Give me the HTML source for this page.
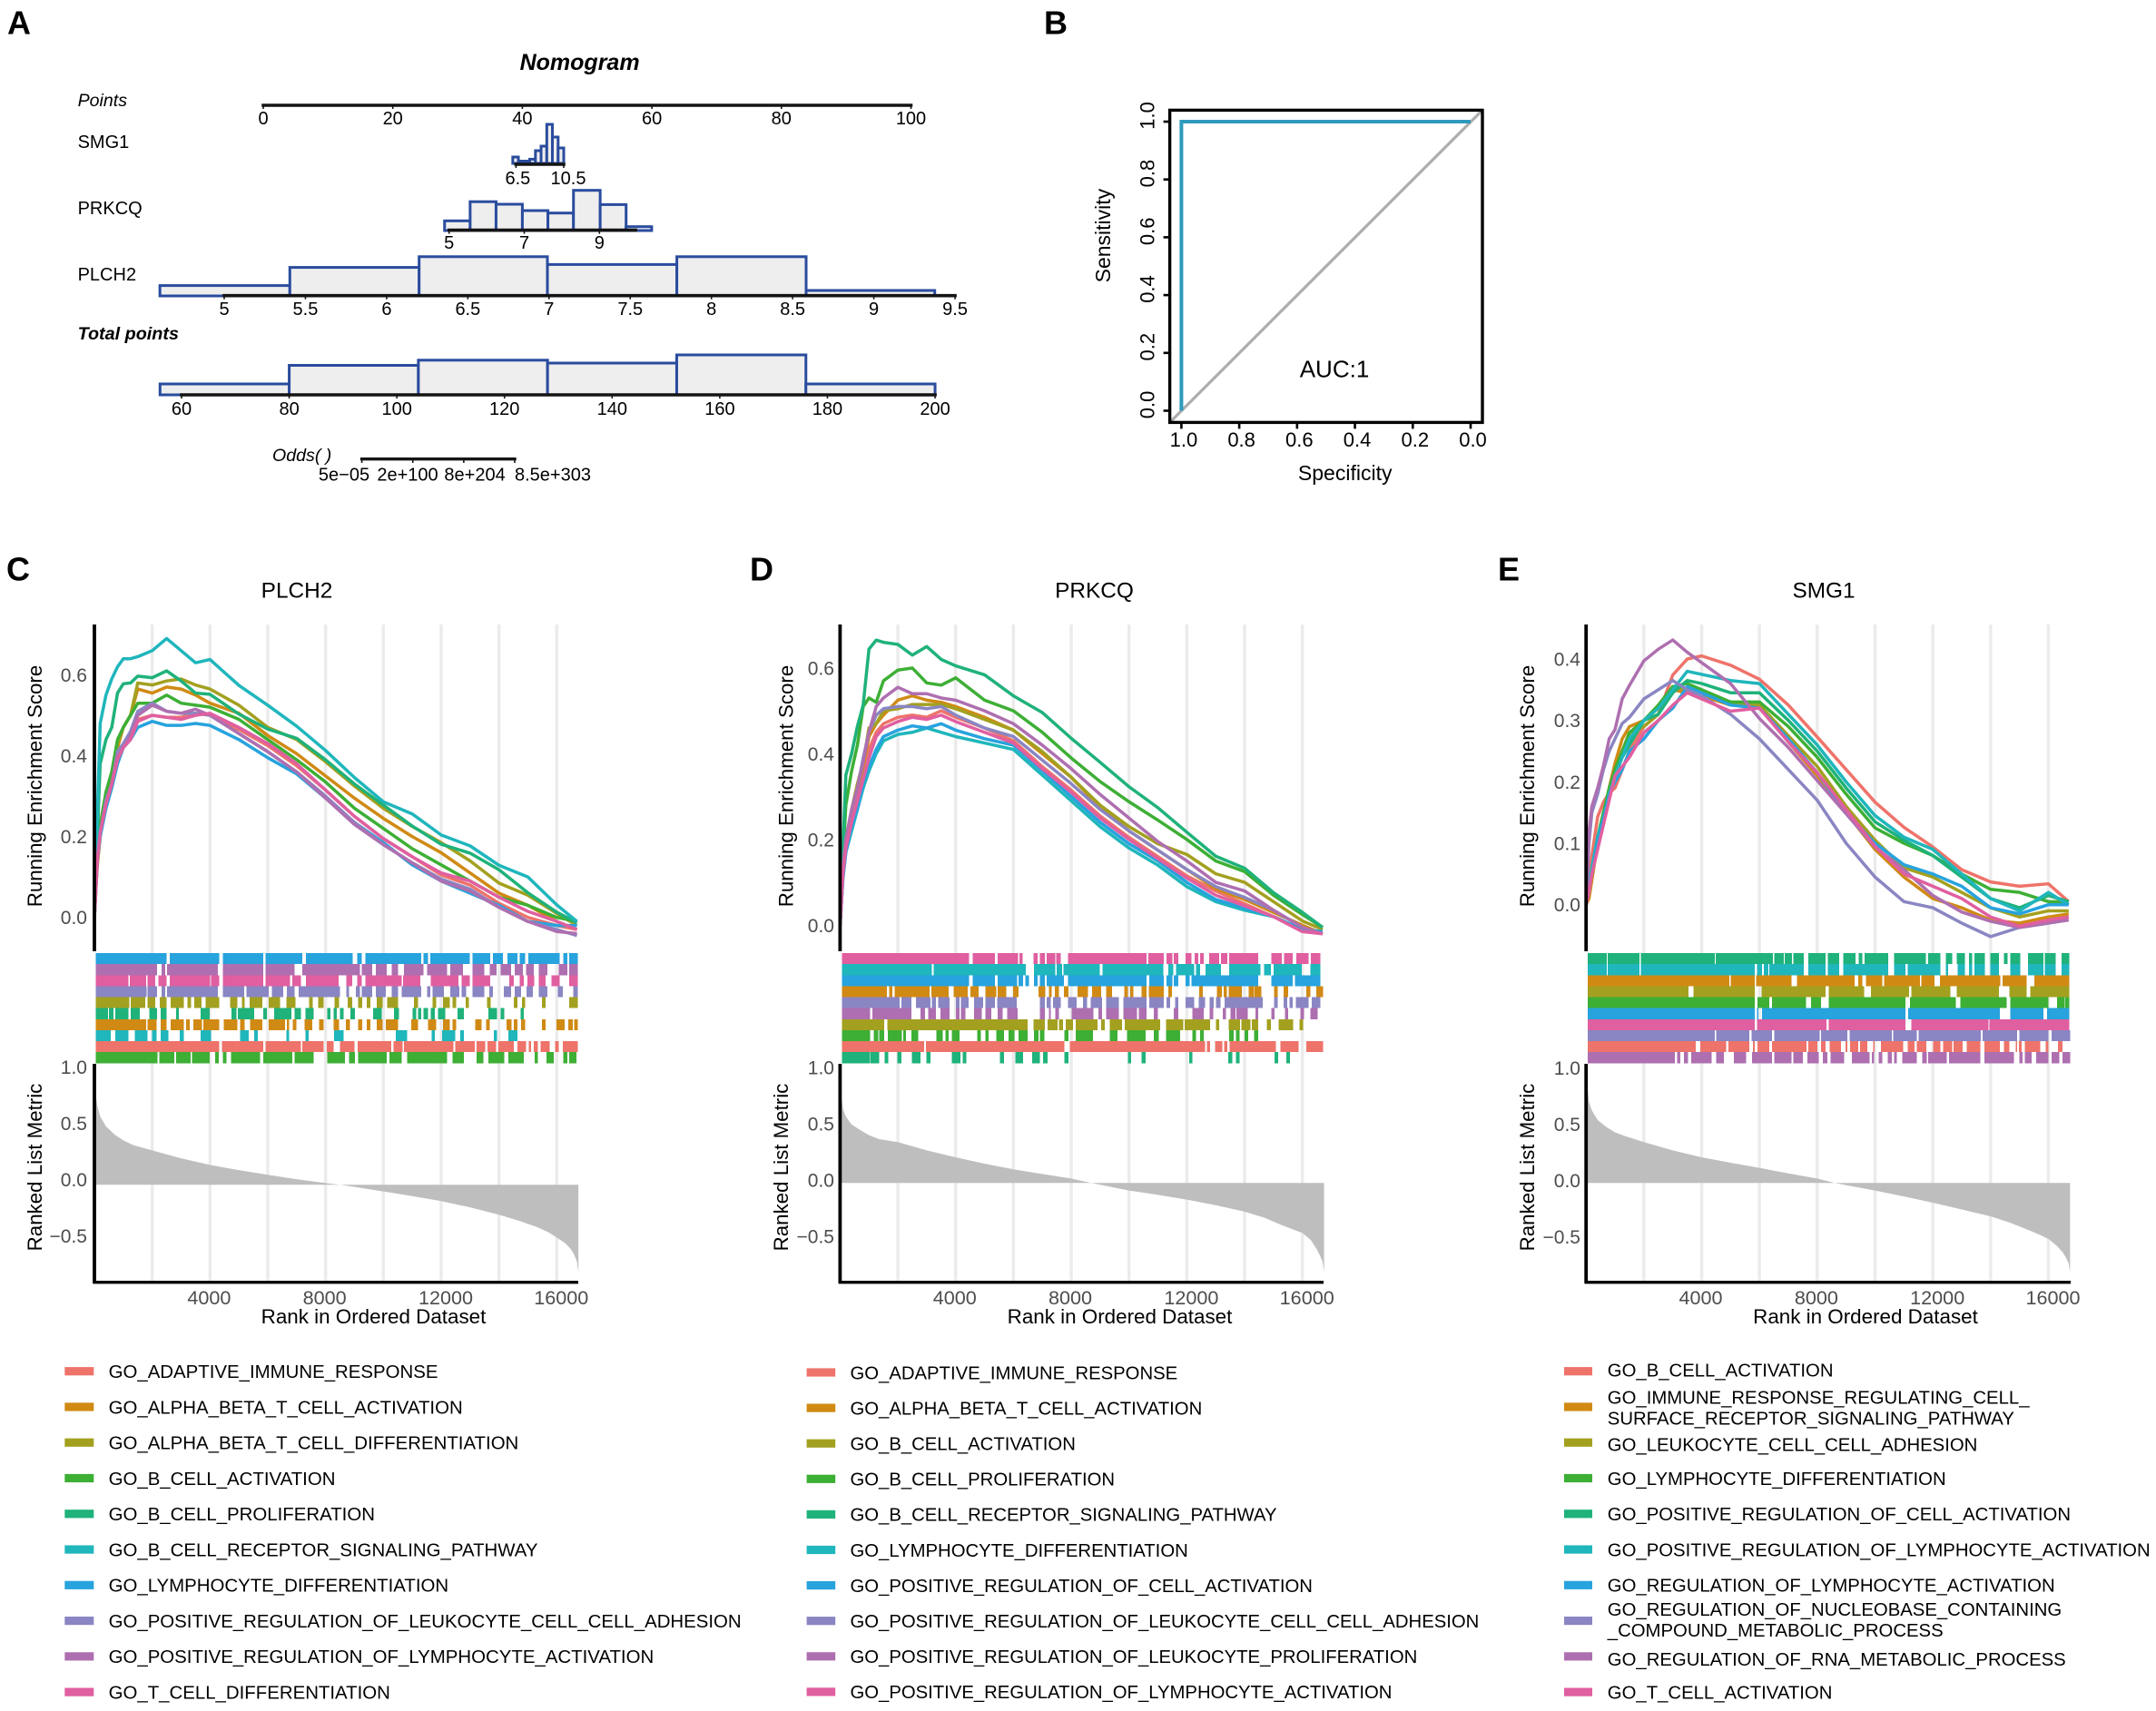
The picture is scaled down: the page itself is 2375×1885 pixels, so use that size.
<!DOCTYPE html>
<html lang="en">
<head>
<meta charset="utf-8">
<title>Nomogram, ROC and GSEA panels</title>
<style>
html,body{margin:0;padding:0;background:#fff;}
#figure{display:block;width:2375px;height:1885px;font-family:"Liberation Sans",sans-serif;}
</style>
</head>
<body>
<svg id="figure" xmlns="http://www.w3.org/2000/svg" width="2375" height="1885" viewBox="0 0 2375 1885">
<rect x="0" y="0" width="2375" height="1885" fill="#ffffff"/>
<text x="8" y="37.5" font-size="36" font-weight="bold">A</text>
<text x="1150" y="37.5" font-size="36" font-weight="bold">B</text>
<text x="7" y="639.5" font-size="36" font-weight="bold">C</text>
<text x="826" y="639.5" font-size="36" font-weight="bold">D</text>
<text x="1650" y="639.5" font-size="36" font-weight="bold">E</text>
<g id="nomogram"></g>
<g id="roc"></g>
<g id="gsea-c"></g>
<g id="gsea-d"></g>
<g id="gsea-e"></g>
</svg>
<script>
/* ---------- Nomogram data ---------- */
const pointsTicks = [0,20,40,60,80,100];
const smg1Ticks = [6.5,10.5];
const smg1Edges = [6.23,6.7,7.18,7.65,8.13,8.6,9.08,9.55,10.03,10.5];
const smg1Counts = [7,2.5,2.5,4.6,14,19,43,29,17];
const prkcqTicks = [5,7,9];
const prkcqEdges = [4.88,5.56,6.25,6.95,7.63,8.31,9.02,9.71,10.39];
const prkcqCounts = [10.7,31.8,29,22,19.3,44.3,28.6,4.3];
const plch2Ticks = [5,5.5,6,6.5,7,7.5,8,8.5,9,9.5];
const plch2Edges = [4.604,5.404,6.2,6.99,7.787,8.583,9.375];
const plch2Counts = [11.4,31.4,43.2,34.6,43.2,6];
const totalTicks = [60,80,100,120,140,160,180,200];
const totalEdges = [56,80,104,128,152,176,200];
const totalCounts = [12,32.5,38.2,35,44,12];
const oddsTickLabels = ['5e\u221205','2e+100','8e+204','8.5e+303'];

/* ---------- ROC data ---------- */
const rocSpecificity = [1,1,0];
const rocSensitivity = [0,1,1];
const rocTicks = [0,0.2,0.4,0.6,0.8,1];

/* ---------- GSEA shared ---------- */
const seriesColors = ['#EE736A','#D08A14','#A3A020','#3DAF35','#1FB27A','#1FB6BC','#27A3DE','#8A86C3','#AE6FB0','#E05FA0'];
const gseaRanks = [0,100,200,400,600,800,1000,1250,1500,2000,2500,3000,3500,4000,5000,6000,7000,8000,9000,10000,11000,12000,13000,14000,15000,16000,16700];
const gridRanks = [2000,4000,6000,8000,10000,12000,14000,16000];
const rankTickLabels = [4000,8000,12000,16000];
const metricRanks = [0,50,100,200,400,700,1000,1350,2000,3000,4000,5000,6000,7000,8000,8600,10000,11000,12000,13000,14000,14700,15300,15700,16000,16300,16500,16600,16700,16750];
const metricTicks = [1,0.5,0,-0.5];
const RUG_BIN_RANKS = 13.25; /* each rug value below is a bin of 13.25 ranked genes */

/* ---------- Panel C: PLCH2 ---------- */
const legendC = ['GO_ADAPTIVE_IMMUNE_RESPONSE','GO_ALPHA_BETA_T_CELL_ACTIVATION','GO_ALPHA_BETA_T_CELL_DIFFERENTIATION','GO_B_CELL_ACTIVATION','GO_B_CELL_PROLIFERATION','GO_B_CELL_RECEPTOR_SIGNALING_PATHWAY','GO_LYMPHOCYTE_DIFFERENTIATION','GO_POSITIVE_REGULATION_OF_LEUKOCYTE_CELL_CELL_ADHESION','GO_POSITIVE_REGULATION_OF_LYMPHOCYTE_ACTIVATION','GO_T_CELL_DIFFERENTIATION'];
const esTicksC = [0,0.2,0.4,0.6];
const esC0 = [0,.15,.22,.29,.34,.41,.42,.46,.49,.50,.495,.495,.505,.50,.465,.425,.375,.315,.25,.195,.15,.105,.08,.035,0,-.02,-.03];
const esC1 = [0,.13,.2,.29,.34,.42,.47,.50,.565,.555,.57,.565,.55,.53,.505,.45,.405,.35,.295,.245,.20,.16,.11,.06,.03,-.01,-.03];
const esC2 = [0,.13,.2,.30,.34,.43,.47,.50,.58,.575,.585,.59,.575,.565,.525,.47,.44,.385,.325,.27,.225,.185,.14,.085,.055,.01,-.02];
const esC3 = [0,.15,.23,.31,.36,.44,.47,.50,.53,.53,.55,.53,.525,.52,.49,.44,.39,.335,.27,.22,.17,.13,.09,.05,.03,0,-.01];
const esC4 = [0,.2,.38,.44,.47,.555,.578,.58,.597,.593,.61,.585,.555,.552,.503,.466,.443,.39,.33,.278,.226,.181,.159,.118,.061,.013,-.013];
const esC5 = [0,.25,.48,.55,.59,.62,.64,.64,.645,.66,.69,.66,.63,.638,.574,.525,.473,.413,.346,.286,.256,.204,.177,.129,.10,.031,-.01];
const esC6 = [0,.14,.2,.27,.32,.38,.42,.44,.47,.485,.475,.475,.48,.475,.44,.395,.355,.295,.235,.185,.13,.09,.06,.03,-.01,-.02,-.02];
const esC7 = [0,.14,.21,.29,.33,.41,.43,.46,.51,.53,.51,.505,.505,.50,.455,.41,.36,.30,.235,.18,.135,.095,.07,.025,-.01,-.03,-.045];
const esC8 = [0,.14,.21,.28,.33,.40,.42,.45,.50,.525,.51,.505,.515,.50,.455,.41,.36,.295,.23,.18,.135,.09,.065,.025,-.01,-.035,-.04];
const esC9 = [0,.14,.21,.28,.33,.39,.42,.44,.485,.50,.495,.49,.50,.505,.47,.43,.38,.315,.25,.195,.15,.11,.09,.05,.015,-.01,-.03];
const metricC = [.80,.795,.70,.607,.52,.446,.395,.352,.306,.235,.177,.13,.089,.05,.016,-.003,-.059,-.10,-.145,-.2,-.266,-.32,-.374,-.42,-.468,-.52,-.575,-.62,-.683,-.777];
const rugOrderC = [6,8,9,7,2,4,1,5,0,3];
const rugC6 = [3,189,197,326,335,441,447,543,553,674,687,698,708,853,860,871,877,981,987,1034,1041,1067,1079,1105,1111,1125,1133,1215,1225,1235,1240,1263];
const rugC8 = [3,164,175,185,190,323,335,441,447,523,543,693,698,725,735,763,777,793,808,860,869,921,930,963,988,1018,1033,1050,1061,1088,1098,1119,1128,1148,1161,1183,1213,1235,1240,1263];
const rugC9 = [3,89,93,135,139,159,167,189,197,302,305,326,335,441,447,511,517,539,553,638,658,673,687,698,708,803,806,851,878,951,959,981,987,1034,1083,1096,1111,1121,1131,1149,1161,1178,1194,1215,1240,1263];
const rugC7 = [3,136,139,164,175,185,190,323,335,391,397,455,463,493,503,523,533,641,658,665,683,693,698,725,735,761,777,793,803,853,869,877,883,913,930,953,959,971,987,1018,1031,1041,1069,1088,1098,1115,1129,1145,1161,1183,1211,1223,1251,1263];
const rugC2 = [3,91,95,133,139,159,171,189,199,233,243,253,261,280,291,326,355,373,385,393,405,439,455,485,501,525,561,570,585,599,627,639,661,673,689,699,711,721,737,753,765,793,835,845,883,893,910,928,935,945,970,978,1025,1035,1095,1105,1117,1125,1169,1178,1240,1263];
const rugC4 = [3,35,38,50,55,89,95,118,143,164,173,188,213,221,277,301,358,371,375,417,441,450,469,515,523,539,551,573,608,617,625,633,641,651,669,681,728,751,783,795,831,841,845,853,859,871,878,889,898,916,948,965,1029,1051,1061,1071,1113,1121];
const rugC1 = [3,135,139,163,173,189,199,233,239,249,259,281,285,326,338,373,381,393,407,439,455,498,503,509,518,528,549,569,587,599,625,639,657,667,689,699,711,721,737,753,761,793,828,845,871,893,910,928,935,945,995,1011,1023,1033,1077,1089,1095,1105,1115,1125,1169,1178,1207,1228,1238,1250,1253,1263];
const rugC5 = [3,43,55,89,105,139,150,163,173,193,223,233,277,305,381,403,417,427,501,509,551,559,626,651,787,817,881,889,908,943,956,965,1043,1051,1081,1105];
const rugC0 = [3,326,333,441,447,539,543,599,607,625,641,679,688,775,781,805,809,938,943,993,998,1021,1027,1049,1055,1095,1105,1128,1135,1141,1148,1158,1165,1189,1203,1213,1223,1263];
const rugC3 = [3,165,169,209,213,251,255,301,315,325,335,345,357,433,441,517,523,573,608,655,665,681,689,763,771,803,817,921,935,965,998,1016,1029,1071,1081,1121,1150,1158,1181,1200,1225,1235,1240,1259];

/* ---------- Panel D: PRKCQ ---------- */
const legendD = ['GO_ADAPTIVE_IMMUNE_RESPONSE','GO_ALPHA_BETA_T_CELL_ACTIVATION','GO_B_CELL_ACTIVATION','GO_B_CELL_PROLIFERATION','GO_B_CELL_RECEPTOR_SIGNALING_PATHWAY','GO_LYMPHOCYTE_DIFFERENTIATION','GO_POSITIVE_REGULATION_OF_CELL_ACTIVATION','GO_POSITIVE_REGULATION_OF_LEUKOCYTE_CELL_CELL_ADHESION','GO_POSITIVE_REGULATION_OF_LEUKOCYTE_PROLIFERATION','GO_POSITIVE_REGULATION_OF_LYMPHOCYTE_ACTIVATION'];
const esTicksD = [0,0.2,0.4,0.6];
const esD0 = [0,.12,.18,.25,.30,.35,.41,.45,.47,.485,.49,.485,.50,.485,.46,.43,.37,.315,.255,.205,.16,.115,.08,.05,.02,-.01,-.02];
const esD1 = [0,.12,.19,.26,.31,.37,.44,.47,.49,.525,.535,.525,.52,.51,.485,.455,.40,.345,.275,.22,.175,.13,.085,.06,.03,0,-.02];
const esD2 = [0,.13,.2,.27,.33,.38,.46,.47,.50,.505,.515,.515,.515,.505,.48,.455,.405,.345,.28,.23,.19,.165,.12,.10,.055,.01,-.01];
const esD3 = [0,.16,.28,.36,.42,.51,.53,.52,.57,.595,.60,.565,.56,.577,.525,.50,.45,.39,.335,.288,.245,.20,.15,.125,.07,.025,-.005];
const esD4 = [0,.18,.35,.40,.464,.514,.644,.665,.66,.655,.63,.65,.62,.605,.584,.535,.496,.436,.38,.323,.274,.217,.161,.133,.076,.03,-.005];
const esD5 = [0,.11,.17,.22,.27,.32,.36,.40,.43,.445,.45,.46,.45,.44,.425,.41,.35,.29,.23,.18,.14,.09,.055,.035,.02,-.01,-.015];
const esD6 = [0,.11,.17,.23,.27,.33,.37,.41,.44,.455,.465,.46,.47,.455,.435,.42,.36,.30,.24,.19,.15,.10,.06,.04,.02,-.01,-.015];
const esD7 = [0,.13,.2,.27,.32,.39,.45,.49,.505,.51,.51,.505,.51,.49,.46,.44,.385,.33,.27,.22,.175,.13,.09,.065,.035,-.005,-.02];
const esD8 = [0,.13,.2,.27,.32,.38,.45,.51,.53,.555,.54,.54,.53,.525,.50,.47,.42,.365,.305,.25,.195,.15,.10,.08,.035,-.005,-.02];
const esD9 = [0,.12,.18,.24,.29,.34,.39,.44,.46,.475,.485,.48,.49,.475,.45,.425,.365,.31,.25,.20,.155,.11,.07,.045,.02,-.015,-.02];
const metricD = [.80,.753,.66,.59,.52,.47,.425,.39,.363,.29,.228,.172,.121,.08,.04,.005,-.067,-.105,-.148,-.197,-.255,-.31,-.376,-.415,-.444,-.51,-.59,-.64,-.70,-.793];
const rugOrderD = [9,5,6,1,7,8,2,3,0,4];
const rugD9 = [5,337,347,405,412,465,468,477,505,516,522,535,540,562,565,577,595,800,805,845,853,868,872,883,902,918,926,936,940,950,964,990,995,1012,1016,1092,1126,1154,1160,1182,1192,1224,1230,1254];
const rugD5 = [5,240,244,485,507,562,566,580,584,678,686,844,857,870,877,925,930,940,955,995,1016,1098,1108,1125,1132,1206,1228,1254];
const rugD6 = [5,337,347,405,412,463,466,478,484,494,507,516,522,535,540,585,595,800,807,845,853,868,872,883,902,913,918,1092,1126,1182,1188,1254];
const rugD1 = [5,122,128,136,142,234,238,284,297,333,340,362,380,408,412,434,452,466,518,536,545,553,561,572,585,596,620,648,658,682,695,710,742,752,758,766,787,800,806,846,857,867,938,947,984,997,1002,1010,1015,1050,1067,1080,1082,1100,1134,1143,1158,1170,1218,1228,1244,1262];
const rugD7 = [5,155,160,186,198,236,240,250,256,286,302,312,316,336,350,374,380,404,410,462,522,535,540,550,556,577,595,618,635,645,655,684,695,728,740,800,807,845,853,862,875,883,902,925,937,953,965,976,982,994,1004,1104,1134,1143,1158,1168,1174,1182,1190,1224,1232,1254];
const rugD8 = [5,78,85,186,210,222,230,250,262,286,302,312,316,328,350,370,380,395,412,425,436,464,522,535,545,550,562,572,605,662,675,684,695,728,740,776,780,800,820,830,872,883,920,950,965,975,1000,1008,1020,1033,1035,1065,1085,1092,1126,1135,1162,1170,1202,1212,1228,1248];
const rugD2 = [5,115,123,490,505,535,542,568,572,582,590,608,615,672,682,692,704,737,743,836,852,896,900,966,982,990,1015,1045,1048,1072,1075,1092,1115,1125,1145,1184,1200,1210];
const rugD3 = [5,78,88,100,102,115,125,162,165,172,186,204,252,268,275,283,292,312,358,368,380,388,408,428,440,455,466,490,506,518,522,534,586,596,616,660,705,725,750,798,820,832,852,888,920,930,940,950,1016,1028,1034,1044,1056,1066,1082,1092];
const rugD0 = [5,220,224,586,600,954,958,967,980,998,1003,1012,1018,1138,1150,1198,1218,1262];
const rugD4 = [5,78,80,102,116,126,150,160,188,210,226,236,292,314,320,330,418,428,458,478,502,522,530,542,586,596,752,760,787,798,912,920,1014,1024,1034,1044,1135,1144,1166,1175];

/* ---------- Panel E: SMG1 ---------- */
const legendE = ['GO_B_CELL_ACTIVATION','GO_IMMUNE_RESPONSE_REGULATING_CELL_\nSURFACE_RECEPTOR_SIGNALING_PATHWAY','GO_LEUKOCYTE_CELL_CELL_ADHESION','GO_LYMPHOCYTE_DIFFERENTIATION','GO_POSITIVE_REGULATION_OF_CELL_ACTIVATION','GO_POSITIVE_REGULATION_OF_LYMPHOCYTE_ACTIVATION','GO_REGULATION_OF_LYMPHOCYTE_ACTIVATION','GO_REGULATION_OF_NUCLEOBASE_CONTAINING\n_COMPOUND_METABOLIC_PROCESS','GO_REGULATION_OF_RNA_METABOLIC_PROCESS','GO_T_CELL_ACTIVATION'];
const esTicksE = [0,0.1,0.2,0.3,0.4];
const esE0 = [0,.04,.08,.143,.167,.182,.19,.22,.25,.29,.31,.374,.40,.405,.39,.367,.325,.273,.22,.167,.126,.094,.057,.037,.03,.034,.005];
const esE1 = [0,.01,.04,.10,.14,.19,.23,.27,.29,.30,.32,.35,.345,.34,.325,.325,.265,.21,.15,.09,.045,.01,-.005,-.025,-.03,-.02,-.015];
const esE2 = [0,.02,.05,.10,.14,.18,.21,.25,.28,.29,.31,.355,.35,.345,.33,.325,.275,.225,.16,.105,.06,.045,.02,-.005,-.02,-.01,-.01];
const esE3 = [0,.03,.05,.11,.15,.19,.22,.25,.28,.30,.325,.355,.36,.35,.33,.33,.29,.24,.18,.125,.10,.08,.05,.025,.02,.005,.005];
const esE4 = [0,.03,.06,.11,.14,.18,.21,.24,.26,.30,.31,.345,.365,.36,.345,.345,.30,.25,.19,.135,.105,.08,.045,.01,-.005,.015,.005];
const esE5 = [0,.03,.06,.11,.14,.18,.21,.24,.27,.30,.32,.35,.38,.375,.365,.36,.31,.26,.20,.145,.11,.09,.05,.01,-.01,.02,0];
const esE6 = [0,.03,.05,.10,.14,.18,.20,.22,.25,.27,.30,.32,.355,.345,.325,.32,.27,.215,.15,.10,.065,.05,.03,-.005,-.015,0,0];
const esE7 = [0,.10,.15,.18,.22,.25,.27,.295,.305,.335,.35,.365,.35,.34,.31,.27,.22,.17,.10,.045,.005,-.005,-.03,-.052,-.037,-.03,-.02];
const esE8 = [0,.118,.16,.19,.226,.27,.285,.335,.357,.397,.416,.431,.411,.394,.36,.303,.256,.202,.148,.094,.057,.015,-.012,-.027,-.037,-.03,-.025];
const esE9 = [0,.02,.05,.09,.13,.17,.21,.225,.24,.28,.30,.325,.345,.335,.315,.32,.265,.215,.155,.095,.05,.03,.01,-.02,-.035,-.025,-.02];
const metricE = [.85,.833,.72,.645,.56,.497,.45,.417,.363,.29,.228,.18,.134,.085,.04,0,-.067,-.12,-.175,-.235,-.296,-.355,-.417,-.46,-.497,-.56,-.618,-.66,-.712,-.793];
const rugOrderE = [4,5,1,2,3,6,9,7,0,8];
const rugE4 = [4,54,57,140,143,336,338,488,492,516,519,538,541,568,580,626,631,661,672,704,712,721,728,789,804,888,893,926,940,956,968,989,1000,1008,1014,1042,1056,1078,1092,1101,1108,1134,1154,1194,1198,1226,1242,1262];
const rugE5 = [4,54,57,140,143,441,446,460,464,476,479,568,580,626,631,661,672,789,804,834,840,926,940,946,970,989,1000,1008,1014,1042,1056,1078,1108,1134,1154,1194,1198,1226,1242,1262];
const rugE1 = [4,374,378,441,444,536,551,701,711,721,731,774,778,872,876,910,924,1082,1088,1151,1171,1262];
const rugE2 = [4,268,281,441,458,626,634,726,744,844,850,951,968,1078,1106,1151,1160,1262];
const rugE3 = [4,441,448,478,486,574,588,614,634,834,846,966,978,1098,1108,1208,1230,1250,1252,1262];
const rugE6 = [4,441,446,450,460,834,841,1081,1108,1194,1204,1262];
const rugE9 = [4,441,446,628,634,834,850,1051,1054,1262];
const rugE7 = [4,336,340,426,432,486,492,610,614,682,688,798,802,864,868,1031,1036,1126,1132,1208,1216,1264];
const rugE0 = [4,286,298,366,372,426,436,441,448,478,486,576,580,604,614,626,636,666,678,682,690,711,716,734,750,754,770,828,840,858,864,889,906,926,932,956,960,984,994,1030,1041,1081,1092,1106,1122,1126,1130,1138,1146,1186,1200,1208,1232,1244];
const rugE8 = [4,232,238,246,256,266,274,328,340,360,386,418,434,486,492,536,541,566,578,608,618,630,638,674,694,740,746,752,764,774,788,798,804,812,826,864,878,890,894,942,948,1030,1041,1118,1132,1140,1146,1164,1176,1208,1216,1236,1244,1264];

/* ---------- Helpers ---------- */
const SVGNS = 'http://www.w3.org/2000/svg';
function mk(tag, attrs, parent, name) {
  const node = document.createElementNS(SVGNS, tag);
  for (const k in attrs) { node.setAttribute(k, attrs[k]); }
  
  
  parent.appendChild(node);
  return node;
}
function label(parent, name, x, y, str, size, opts) {
  const o = opts || {};
  const a = {x: x, y: y, dy: '0.358em', 'font-size': size, fill: o.fill || '#000', 'text-anchor': o.anchor || 'middle'};
  if (o.weight) { a['font-weight'] = o.weight; }
  if (o.style) { a['font-style'] = o.style; }
  if (o.rot) { a.transform = 'rotate(' + o.rot + ' ' + x + ' ' + y + ')'; }
  const t = mk('text', a, parent, name);
  t.textContent = str;
  return t;
}
function line(parent, name, x1, y1, x2, y2, stroke, w, cap) {
  return mk('line', {x1: x1, y1: y1, x2: x2, y2: y2, stroke: stroke, 'stroke-width': w, 'stroke-linecap': cap || 'butt'}, parent, name);
}
function fmt(v) { return String(v); }

/* ---------- Nomogram ---------- */
const nomo = document.getElementById('nomogram');
const NOMO_BLUE = '#2A4C9E';
const AXIS_INK = '#141414';
function hist(name, edges, counts, scale, baseY) {
  counts.forEach(function (c, i) {
    const x0 = scale(edges[i]);
    const x1 = scale(edges[i + 1]);
    mk('rect', {x: x0, y: baseY - c, width: x1 - x0, height: c, fill: '#EEEEEE', stroke: NOMO_BLUE, 'stroke-width': 3}, nomo, name);
  });
}
function nomoAxis(name, ticks, scale, y, x0, x1, labelY, labelOf) {
  line(nomo, name + '-line', x0, y, x1, y, AXIS_INK, 3.6, 'square');
  ticks.forEach(function (t) {
    const x = scale(t);
    line(nomo, name + '-tick', x, y, x, y + 4, AXIS_INK, 1.6);
    label(nomo, name + '-tick-label', labelOf ? labelOf(t) : x, labelY, fmt(t), 20);
  });
}
label(nomo, 'nomogram-title', 638.6, 68, 'Nomogram', 25, {weight: 'bold', style: 'italic'});
label(nomo, 'points-row-label', 85.6, 110, 'Points', 19.6, {anchor: 'start', style: 'italic'});
label(nomo, 'smg1-row-label', 85.6, 156, 'SMG1', 20, {anchor: 'start'});
label(nomo, 'prkcq-row-label', 85.6, 228.6, 'PRKCQ', 20, {anchor: 'start'});
label(nomo, 'plch2-row-label', 85.6, 302, 'PLCH2', 20, {anchor: 'start'});
label(nomo, 'total-points-row-label', 85.6, 367, 'Total points', 19.8, {anchor: 'start', weight: 'bold', style: 'italic'});
label(nomo, 'odds-row-label', 300, 501, 'Odds(  )', 19.6, {anchor: 'start', style: 'italic'});

function pointsX(v) { return 290 + v * 7.135; }
function smg1X(v) { return 568.4 + (v - 6.5) * 13.15; }
function prkcqX(v) { return 494.7 + (v - 5) * 41.4; }
function plch2X(v) { return 247 + (v - 5) * 178.9; }
function totalX(v) { return 200 + (v - 60) * 5.929; }

nomoAxis('points-axis', pointsTicks, pointsX, 116, pointsX(0), pointsX(100), 130);
hist('smg1-histogram-bar', smg1Edges, smg1Counts, smg1X, 180);
nomoAxis('smg1-axis', smg1Ticks, smg1X, 181, smg1X(6.5), smg1X(10.5), 196, function (t) { return smg1X(t) + (t > 8 ? 5 : 2); });
hist('prkcq-histogram-bar', prkcqEdges, prkcqCounts, prkcqX, 254);
nomoAxis('prkcq-axis', prkcqTicks, prkcqX, 253.6, prkcqX(5), prkcqX(9.96), 267);
hist('plch2-histogram-bar', plch2Edges, plch2Counts, plch2X, 326);
nomoAxis('plch2-axis', plch2Ticks, plch2X, 325.7, plch2X(5), plch2X(9.5), 340);
hist('total-points-histogram-bar', totalEdges, totalCounts, totalX, 435);
nomoAxis('total-points-axis', totalTicks, totalX, 435, totalX(60), totalX(200), 450);

line(nomo, 'odds-axis-line', 398.6, 505.7, 567, 505.7, AXIS_INK, 3.4, 'square');
oddsTickLabels.forEach(function (s, i) {
  const tx = 398.6 + i * (567 - 398.6) / (oddsTickLabels.length - 1);
  const lx = tx + [-19.6, -5.7, 12.2, 42][i];
  line(nomo, 'odds-axis-tick', tx, 505.7, tx, 510, AXIS_INK, 1.6);
  label(nomo, 'odds-tick-label', lx, 522.5, s, 20);
});

/* ---------- ROC ---------- */
const roc = document.getElementById('roc');
function rocX(spec) { return 1620 - spec * 318.6; }
function rocY(sens) { return 452.5 - sens * 318.5; }
const rocFrame = {left: 1288.6, right: 1633, top: 121.4, bottom: 465.4};
rocTicks.forEach(function (t) {
  line(roc, 'roc-y-tick', rocFrame.left - 7, rocY(t), rocFrame.left, rocY(t), '#000', 2.6);
  line(roc, 'roc-x-tick', rocX(t), rocFrame.bottom, rocX(t), rocFrame.bottom + 7, '#000', 2.6);
  label(roc, 'roc-y-tick-label', 1263.8, rocY(t) - 6.6, t.toFixed(1), 22, {rot: -90});
  label(roc, 'roc-x-tick-label', rocX(t) + 2.5, 484, t.toFixed(1), 22);
});
mk('line', {x1: rocFrame.left, y1: rocFrame.bottom, x2: rocFrame.right, y2: rocFrame.top, stroke: '#ADADAD', 'stroke-width': 3.2}, roc, 'roc-reference-diagonal');
mk('polyline', {points: rocSpecificity.map(function (s, i) { return rocX(s) + ',' + rocY(rocSensitivity[i]); }).join(' '), fill: 'none', stroke: '#2E9ABC', 'stroke-width': 4, 'stroke-linejoin': 'miter'}, roc, 'roc-curve');
mk('rect', {x: rocFrame.left, y: rocFrame.top, width: rocFrame.right - rocFrame.left, height: rocFrame.bottom - rocFrame.top, fill: 'none', stroke: '#000', 'stroke-width': 3.4}, roc, 'roc-plot-frame');
label(roc, 'roc-auc-annotation', 1470, 406, 'AUC:1', 26);
label(roc, 'roc-x-axis-title', 1481.7, 520.7, 'Specificity', 23);
label(roc, 'roc-y-axis-title', 1215, 259.6, 'Sensitivity', 23, {rot: -90});

/* ---------- GSEA panels ---------- */
const INK = '#4D4D4D';
function gseaPanel(cfg) {
  const g = document.getElementById(cfg.id);
  function X(r) { return cfg.x0 + r * 0.03183; }
  function ES(s) { return cfg.esZero - s * cfg.esScale; }
  function M(m) { return cfg.mZero - m * 124; }

  gridRanks.forEach(function (r) {
    line(g, 'vertical-gridline', X(r), 688, X(r), 1412, '#EBEBEB', 3.4);
  });

  /* bottom: ranked metric */
  const mPts = [X(metricRanks[0]) + ',' + M(0)];
  metricRanks.forEach(function (r, i) { mPts.push(X(r) + ',' + M(cfg.metric[i])); });
  mPts.push(X(metricRanks[metricRanks.length - 1]) + ',' + M(0));
  mk('polygon', {points: mPts.join(' '), fill: '#BEBEBE'}, g, 'ranked-metric-area');

  /* top: running enrichment curves */
  cfg.curves.forEach(function (vals, i) {
    mk('polyline', {points: vals.map(function (v, j) { return X(gseaRanks[j]) + ',' + ES(v); }).join(' '), fill: 'none', stroke: seriesColors[i], 'stroke-width': 3.5, 'stroke-linejoin': 'round'}, g, 'enrichment-curve');
  });

  /* middle: rug rows */
  cfg.rugOrder.forEach(function (seriesIdx, row) {
    const hits = cfg.rugs[seriesIdx];
    for (let k = 0; k + 1 < hits.length; k += 2) {
      const a = X(hits[k] * RUG_BIN_RANKS);
      const b = X(hits[k + 1] * RUG_BIN_RANKS);
      mk('rect', {x: a, y: 1050 + row * 12.13, width: b - a, height: 12.13, fill: seriesColors[seriesIdx], 'shape-rendering': 'crispEdges'}, g, 'gene-hit-block');
    }
  });

  /* axes */
  line(g, 'enrichment-y-axis', cfg.x0, 688, cfg.x0, 1048, '#000', 3.8);
  line(g, 'metric-y-axis', cfg.x0, 1172, cfg.x0, 1414, '#000', 3.8);
  line(g, 'rank-x-axis', cfg.x0 - 1.5, 1412.7, cfg.right, 1412.7, '#000', 3.4);

  /* labels */
  label(g, 'plot-title', cfg.titleX, 650, cfg.title, 24.4);
  label(g, 'enrichment-y-title', cfg.yTitleX, 866, 'Running Enrichment Score', 22.3, {rot: -90});
  label(g, 'metric-y-title', cfg.mTitleX, 1286, 'Ranked List Metric', 22.3, {rot: -90});
  label(g, 'rank-x-title', cfg.xTitleX, 1450, 'Rank in Ordered Dataset', 22.4);
  cfg.esTicks.forEach(function (t) {
    label(g, 'enrichment-tick-label', cfg.tickRight, ES(t), t.toFixed(1), 21, {anchor: 'end', fill: INK});
  });
  metricTicks.forEach(function (t) {
    label(g, 'metric-tick-label', cfg.tickRight, M(t) + cfg.mLabelShift, (t < 0 ? '\u2212' : '') + Math.abs(t).toFixed(1), 21, {anchor: 'end', fill: INK});
  });
  rankTickLabels.forEach(function (r) {
    label(g, 'rank-tick-label', X(r) - 25, 1429.3, fmt(r), 21.6, {anchor: 'start', fill: INK});
  });

  /* legend */
  cfg.legend.forEach(function (txt, i) {
    const y = cfg.legendTop + i * cfg.legendStep;
    mk('rect', {x: cfg.swatchX, y: y - 4.6, width: cfg.swatchW, height: 9.2, fill: seriesColors[i]}, g, 'legend-swatch');
    const parts = txt.split('\n');
    if (parts.length === 2) {
      const lift = i > 5 ? 2.5 : 0;
      label(g, 'legend-entry', cfg.legendTextX, y - 10.5 - lift, parts[0], cfg.legendSize, {anchor: 'start'});
      label(g, 'legend-entry', cfg.legendTextX, y + 12.5 - lift, parts[1], cfg.legendSize, {anchor: 'start'});
    } else {
      label(g, 'legend-entry', cfg.legendTextX, y + (cfg.legendNudge ? cfg.legendNudge[i] : 0), txt, cfg.legendSize, {anchor: 'start'});
    }
  });
}

gseaPanel({
  id: 'gsea-c', title: 'PLCH2', titleX: 327, x0: 104, right: 637,
  esZero: 1010.7, esScale: 445.3, mZero: 1305.3, mLabelShift: -6,
  esTicks: esTicksC, metric: metricC,
  curves: [esC0, esC1, esC2, esC3, esC4, esC5, esC6, esC7, esC8, esC9],
  rugOrder: rugOrderC,
  rugs: [rugC0, rugC1, rugC2, rugC3, rugC4, rugC5, rugC6, rugC7, rugC8, rugC9],
  yTitleX: 38, mTitleX: 38, tickRight: 96, xTitleX: 411.5,
  legend: legendC, legendTop: 1510.7, legendStep: 39.27, swatchX: 71.3, swatchW: 32, legendTextX: 119.6, legendSize: 20.42
});
gseaPanel({
  id: 'gsea-d', title: 'PRKCQ', titleX: 1205.5, x0: 925.4, right: 1458,
  esZero: 1019.3, esScale: 472.3, mZero: 1303.3, mLabelShift: -3.5,
  esTicks: esTicksD, metric: metricD,
  curves: [esD0, esD1, esD2, esD3, esD4, esD5, esD6, esD7, esD8, esD9],
  rugOrder: rugOrderD,
  rugs: [rugD0, rugD1, rugD2, rugD3, rugD4, rugD5, rugD6, rugD7, rugD8, rugD9],
  yTitleX: 865.6, mTitleX: 860, tickRight: 919, xTitleX: 1233.5,
  legend: legendD, legendTop: 1512, legendStep: 39.1, swatchX: 888.6, swatchW: 31.6, legendTextX: 936.5, legendSize: 20.3
});
gseaPanel({
  id: 'gsea-e', title: 'SMG1', titleX: 2009, x0: 1747.2, right: 2281,
  esZero: 996.7, esScale: 676.7, mZero: 1303.3, mLabelShift: -3,
  esTicks: esTicksE, metric: metricE,
  curves: [esE0, esE1, esE2, esE3, esE4, esE5, esE6, esE7, esE8, esE9],
  rugOrder: rugOrderE,
  rugs: [rugE0, rugE1, rugE2, rugE3, rugE4, rugE5, rugE6, rugE7, rugE8, rugE9],
  yTitleX: 1682, mTitleX: 1682, tickRight: 1741, xTitleX: 2055,
  legend: legendE, legendTop: 1510.7, legendStep: 39.27, swatchX: 1723, swatchW: 31, legendTextX: 1770.8, legendSize: 20.32,
  legendNudge: [-1.7, 0, 2, 0, 0, 0, 0, 0, 2.7, 0]
});
</script>
</body>
</html>
